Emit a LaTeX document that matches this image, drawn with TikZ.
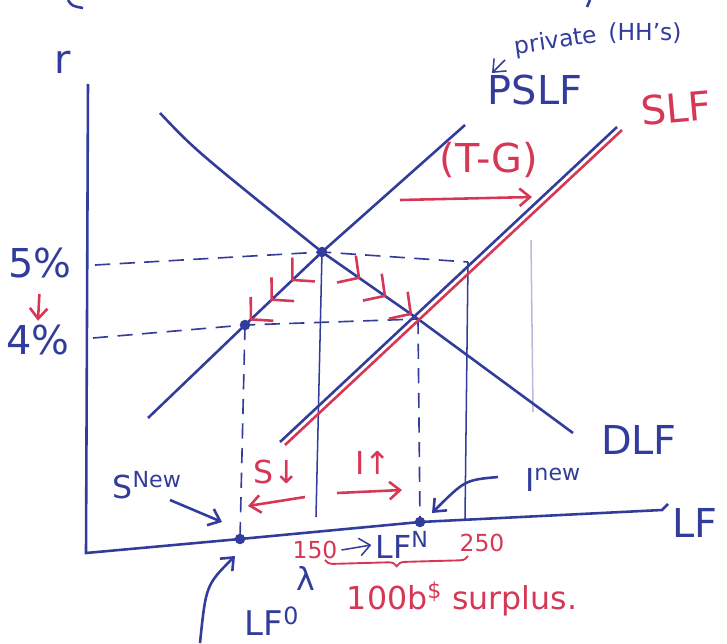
\documentclass[tikz,border=0pt]{standalone}
\usepackage{fontspec}
\setmainfont{DejaVu Sans}
\usepackage{tikz}
\usetikzlibrary{
  arrows.meta,%
  % chevrons along the supply and demand lines
  decorations.markings,%
  decorations.pathreplacing,%
  calc,%
  positioning
}
\definecolor{pen}{RGB}{50,60,155}
\definecolor{ink}{RGB}{214,55,85}
\tikzset{>={Straight Barb[length=9pt,width=15pt]}}
\tikzset{line cap=round, line join=round}
\tikzset{
  stroke/.style={pen, line width=2.2pt},
  thinline/.style={pen, line width=1.3pt},
  guide/.style={pen, line width=1.4pt, dash pattern=on 13pt off 8pt},
  movearrow/.style={ink, line width=2.2pt, ->},
  eqdot/.style={circle, fill=pen, inner sep=0pt, minimum size=9pt},
  bigtxt/.style={pen, font=\fontsize{34}{38}\selectfont},
  midtxt/.style={pen, font=\fontsize{27}{30}\selectfont},
  smalltxt/.style={pen, font=\fontsize{20}{24}\selectfont},
  chev/.style={decoration={markings,
      mark=at position 0.40 with {\arrow[ink, line width=2.2pt]{Straight Barb[length=13pt,width=28pt]}},
      mark=at position 0.67 with {\arrow[ink, line width=2.2pt]{Straight Barb[length=13pt,width=28pt]}},
      mark=at position 0.94 with {\arrow[ink, line width=2.2pt]{Straight Barb[length=13pt,width=28pt]}}},
    postaction={decorate}},
}

\begin{document}
\begin{tikzpicture}[x=0.03cm, y=-0.03cm]
  \useasboundingbox (0,0) rectangle (727,643);
  % points of the graph
  \coordinate (ytop) at (88,84);
  \coordinate (O) at (86,553);
  \coordinate (xend) at (662,510);
  \coordinate (E0) at (322,252);
  \coordinate (E1) at (245,325);
  \coordinate (E2) at (418,319);
  \coordinate (A) at (468,262);
  \coordinate (LF0) at (240,539);
  \coordinate (LFN) at (420,522);
  \coordinate (r5) at (95,265);
  \coordinate (r4) at (93,338);
  \coordinate (b0) at (316,517);
  \coordinate (bA) at (465,519);
  \coordinate (dtop) at (160,113);
  \coordinate (dend) at (573,433);
  \coordinate (pbot) at (148,418);
  \coordinate (ptop) at (465,125);
  \coordinate (sbot) at (280,442);
  \coordinate (stop) at (617,127);
  \coordinate (rbot) at (285,445);
  \coordinate (rtop) at (622,130);

  % axes
  \draw[stroke] (ytop) -- (O) -- (LF0) -- (LFN) -- (xend) -- ++(6,-6);
  \draw[stroke] (68,0) .. controls (72,6) .. (83,8);
  \draw[stroke] (590,0) -- (587,7);

  % dashed guides
  \draw[guide] (r5) -- (E0) -- (A);
  \draw[guide] (r4) -- (E1) -- (E2);
  \draw[guide] (E1) -- (LF0);
  \draw[guide] (E2) -- (LFN);
  \draw[thinline] (E0) -- (b0);
  \draw[thinline] (A) -- (bA);
  \draw[thinline, pen!35] (531,240) -- (533,412);

  % curves
  \draw[stroke] (dtop) .. controls (195,150) .. (E0) -- (E2) -- (dend);
  \draw[stroke] (pbot) -- (E1) -- (E0) -- (ptop);
  \draw[ink, line width=2.2pt] (rbot) -- (rtop);
  \draw[stroke] (sbot) -- (stop);

  \node[eqdot] (d0) at (E0) {};
  \node[eqdot] (d1) at (E1) {};
  \node[eqdot] (d2) at (LF0) {};
  \node[eqdot] (d3) at (LFN) {};

  \path[chev] (E0) -- (E1);
  \path[chev] (E0) -- (E2);

  % labels
  \node[bigtxt] (rlab) at (63,62) {r};
  \node[bigtxt] (p5) at (40,263) {5\%};
  \node[bigtxt] (p4) at (38,340) {4\%};
  \draw[movearrow, shorten <=10pt] (p5.south) -- (p4.north);
  \node[bigtxt] (dlf) at (639,440) {DLF};
  \node[bigtxt] (pslf) at (535,90) {PSLF};
  \node[smalltxt, rotate=8] (priv) at (556,42) {private};
  \node[smalltxt] (hh) at (645,33) {(HH's)};
  \coordinate (pa) at (505,60);
  \coordinate (pb) at (492,73);
  \draw[thinline, ->] (pa) -- (pb);
  \node[bigtxt, ink, rotate=5] (slf) at (676,108) {SLF};
  \node[bigtxt, ink] (tg) at (489,160) {(T-G)};
  \coordinate (tg0) at (400,200);
  \coordinate (tg1) at (532,197);
  \draw[movearrow] (tg0) -- (tg1);
  \node[bigtxt] (lfax) at (695,523) {LF};

  \node[midtxt, ink] (sdown) at (277,472) {S↓};
  \coordinate (sd0) at (305,497);
  \coordinate (sd1) at (248,506);
  \draw[movearrow] (sd0) -- (sd1);
  \node[midtxt, ink] (iup) at (373,463) {I↑};
  \coordinate (iu0) at (337,493);
  \coordinate (iu1) at (402,490);
  \draw[movearrow] (iu0) -- (iu1);

  \node[midtxt] (snew) at (147,485) {S\textsuperscript{New}};
  \coordinate (sn0) at (170,500);
  \coordinate (sn1) at (222,522);
  \draw[stroke, ->] (sn0) -- (sn1);
  \node[midtxt] (inew) at (553,480) {I\textsuperscript{new}};
  \coordinate (in0) at (498,477);
  \coordinate (in1) at (432,513);
  \draw[stroke, ->] (in0) .. controls (465,480) .. (in1);

  \node[midtxt, font=\fontsize{29}{32}\selectfont] (lf0) at (272,621) {LF\textsuperscript{0}};
  \coordinate (lf0t) at (200,643);
  \coordinate (lf0h) at (235,556);
  \draw[stroke, ->] (lf0t) .. controls (206,585) .. (lf0h);

  \node[smalltxt, ink] (n150) at (315,550) {150};
  \node[midtxt] (lfn) at (402,545) {LF\textsuperscript{N}};
  \draw[thinline, ->] (n150.east) -- (lfn.west);
  \node[smalltxt, ink] (n250) at (482,543) {250};
  \coordinate (br0) at (325,560);
  \coordinate (br1) at (468,556);
  \draw[ink, line width=1.6pt, decorate, decoration={brace, mirror, amplitude=7pt}] (br0) -- (br1);
  \node[midtxt] (lam) at (306,578) {λ};
  \node[midtxt, ink] (surp) at (462,599) {100b\textsuperscript{\$} surplus.};
\end{tikzpicture}
\end{document}
